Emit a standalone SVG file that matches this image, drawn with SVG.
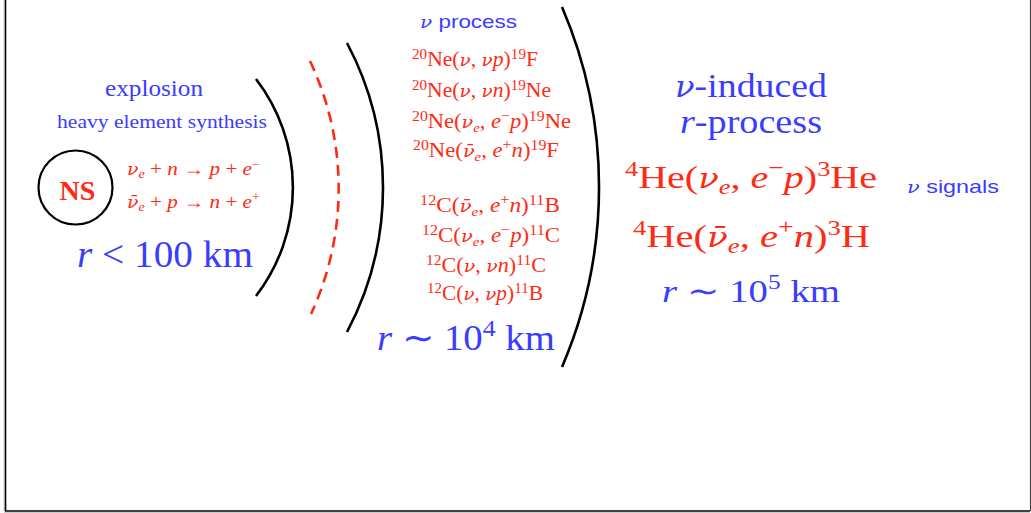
<svg xmlns="http://www.w3.org/2000/svg" width="1031" height="513" viewBox="0 0 1031 513">
<style>
.t{font-family:"Liberation Serif","Times New Roman",serif}
.sans{font-family:"Liberation Sans",Arial,sans-serif}
.b{fill:#3a3cff}
.r{fill:#ff2a14}
.i{font-style:italic}
.nu{font-family:"DejaVu Serif",serif;font-style:italic}
.shell{fill:none;stroke:#000;stroke-width:2.6}
</style>
<rect x="0" y="0" width="1031" height="513" fill="#fff"/>
<g id="frame">
<line x1="4" y1="0" x2="4" y2="512" stroke="#ccc" stroke-width="1"/>
<line x1="5.5" y1="0" x2="5.5" y2="511" stroke="#000" stroke-width="1.6"/>
<line x1="4" y1="512.5" x2="1030" y2="512.5" stroke="#ccc" stroke-width="1"/>
<line x1="5" y1="511" x2="1030" y2="511" stroke="#000" stroke-width="1.6"/>
<line x1="1030.5" y1="0" x2="1030.5" y2="511" stroke="#444" stroke-width="1.2"/>
</g>
<g id="shells">
<path class="shell" d="M256 79 A178 178 0 0 1 256 296"/>
<path d="M310 61 A298 298 0 0 1 311 314" fill="none" stroke="#ff2a14" stroke-width="2.6" stroke-dasharray="11 7"/>
<path class="shell" d="M347 43 A308 308 0 0 1 347 332"/>
<path class="shell" d="M562 7 A456 456 0 0 1 562 367"/>
</g>
<g id="ns">
<circle cx="75.5" cy="187.5" r="37" fill="none" stroke="#000" stroke-width="2.2"/>
<text class="t r" x="77.5" y="200" font-size="28" font-weight="bold" text-anchor="middle">NS</text>
</g>
<g id="inner">
<text class="t b" x="105" y="96" font-size="23" textLength="98" lengthAdjust="spacingAndGlyphs">explosion</text>
<text class="t b" x="57" y="128" font-size="18" textLength="210" lengthAdjust="spacingAndGlyphs">heavy element synthesis</text>
<text class="t r" x="127" y="175" font-size="18" textLength="133" lengthAdjust="spacingAndGlyphs"><tspan class="nu" font-size="16">ν</tspan><tspan class="i" font-size="12" dy="3">e</tspan><tspan dy="-3"> + </tspan><tspan class="i">n</tspan> → <tspan class="i">p</tspan> + <tspan class="i">e</tspan><tspan font-size="12" dy="-7">−</tspan></text>
<text class="t r" x="127" y="208" font-size="18" textLength="133" lengthAdjust="spacingAndGlyphs"><tspan class="nu" font-size="16">ν̄</tspan><tspan class="i" font-size="12" dy="3">e</tspan><tspan dy="-3"> + </tspan><tspan class="i">p</tspan> → <tspan class="i">n</tspan> + <tspan class="i">e</tspan><tspan font-size="12" dy="-7">+</tspan></text>
<text class="t b" x="77" y="267" font-size="38" textLength="176" lengthAdjust="spacingAndGlyphs"><tspan class="i">r</tspan> &lt; 100 km</text>
</g>
<g id="middle">
<text class="b" x="420" y="28" font-size="19" textLength="97" lengthAdjust="spacingAndGlyphs"><tspan class="nu" font-size="17">ν</tspan><tspan class="sans"> process</tspan></text>
<text class="t r" x="412" y="66" font-size="20" textLength="126" lengthAdjust="spacingAndGlyphs"><tspan font-size="14" dy="-7">20</tspan><tspan dy="7">Ne(</tspan><tspan class="nu" font-size="17">ν</tspan>, <tspan class="nu" font-size="17">ν</tspan><tspan class="i">p</tspan>)<tspan font-size="14" dy="-7">19</tspan><tspan dy="7">F</tspan></text>
<text class="t r" x="412" y="97" font-size="20" textLength="139" lengthAdjust="spacingAndGlyphs"><tspan font-size="14" dy="-7">20</tspan><tspan dy="7">Ne(</tspan><tspan class="nu" font-size="17">ν</tspan>, <tspan class="nu" font-size="17">ν</tspan><tspan class="i">n</tspan>)<tspan font-size="14" dy="-7">19</tspan><tspan dy="7">Ne</tspan></text>
<text class="t r" x="412" y="128" font-size="20" textLength="159" lengthAdjust="spacingAndGlyphs"><tspan font-size="14" dy="-7">20</tspan><tspan dy="7">Ne(</tspan><tspan class="nu" font-size="17">ν</tspan><tspan class="i" font-size="13" dy="4">e</tspan><tspan dy="-4">, </tspan><tspan class="i">e</tspan><tspan font-size="14" dy="-8">−</tspan><tspan class="i" dy="8">p</tspan>)<tspan font-size="14" dy="-7">19</tspan><tspan dy="7">Ne</tspan></text>
<text class="t r" x="413" y="157" font-size="20" textLength="146" lengthAdjust="spacingAndGlyphs"><tspan font-size="14" dy="-7">20</tspan><tspan dy="7">Ne(</tspan><tspan class="nu" font-size="17">ν̄</tspan><tspan class="i" font-size="13" dy="4">e</tspan><tspan dy="-4">, </tspan><tspan class="i">e</tspan><tspan font-size="14" dy="-8">+</tspan><tspan class="i" dy="8">n</tspan>)<tspan font-size="14" dy="-7">19</tspan><tspan dy="7">F</tspan></text>
<text class="t r" x="420" y="212" font-size="20" textLength="140" lengthAdjust="spacingAndGlyphs"><tspan font-size="14" dy="-7">12</tspan><tspan dy="7">C(</tspan><tspan class="nu" font-size="17">ν̄</tspan><tspan class="i" font-size="13" dy="4">e</tspan><tspan dy="-4">, </tspan><tspan class="i">e</tspan><tspan font-size="14" dy="-8">+</tspan><tspan class="i" dy="8">n</tspan>)<tspan font-size="14" dy="-7">11</tspan><tspan dy="7">B</tspan></text>
<text class="t r" x="422" y="242" font-size="20" textLength="138" lengthAdjust="spacingAndGlyphs"><tspan font-size="14" dy="-7">12</tspan><tspan dy="7">C(</tspan><tspan class="nu" font-size="17">ν</tspan><tspan class="i" font-size="13" dy="4">e</tspan><tspan dy="-4">, </tspan><tspan class="i">e</tspan><tspan font-size="14" dy="-8">−</tspan><tspan class="i" dy="8">p</tspan>)<tspan font-size="14" dy="-7">11</tspan><tspan dy="7">C</tspan></text>
<text class="t r" x="426" y="272" font-size="20" textLength="120" lengthAdjust="spacingAndGlyphs"><tspan font-size="14" dy="-7">12</tspan><tspan dy="7">C(</tspan><tspan class="nu" font-size="17">ν</tspan>, <tspan class="nu" font-size="17">ν</tspan><tspan class="i">n</tspan>)<tspan font-size="14" dy="-7">11</tspan><tspan dy="7">C</tspan></text>
<text class="t r" x="427" y="300" font-size="20" textLength="116" lengthAdjust="spacingAndGlyphs"><tspan font-size="14" dy="-7">12</tspan><tspan dy="7">C(</tspan><tspan class="nu" font-size="17">ν</tspan>, <tspan class="nu" font-size="17">ν</tspan><tspan class="i">p</tspan>)<tspan font-size="14" dy="-7">11</tspan><tspan dy="7">B</tspan></text>
<text class="t b" x="377" y="350" font-size="36" textLength="178" lengthAdjust="spacingAndGlyphs"><tspan class="i">r</tspan> ∼ 10<tspan font-size="24" dy="-14">4</tspan><tspan dy="14"> km</tspan></text>
</g>
<g id="outer">
<text class="t b" x="675" y="97" font-size="34" textLength="152" lengthAdjust="spacingAndGlyphs"><tspan class="nu" font-size="29">ν</tspan>-induced</text>
<text class="t b" x="680" y="133" font-size="34" textLength="142" lengthAdjust="spacingAndGlyphs"><tspan class="i">r</tspan>-process</text>
<text class="t r" x="625" y="188" font-size="32" textLength="252" lengthAdjust="spacingAndGlyphs"><tspan font-size="21" dy="-12">4</tspan><tspan dy="12">He(</tspan><tspan class="nu" font-size="27">ν</tspan><tspan class="i" font-size="21" dy="6">e</tspan><tspan dy="-6">, </tspan><tspan class="i">e</tspan><tspan font-size="22" dy="-13">−</tspan><tspan class="i" dy="13">p</tspan>)<tspan font-size="21" dy="-12">3</tspan><tspan dy="12">He</tspan></text>
<text class="t r" x="633" y="247" font-size="32" textLength="237" lengthAdjust="spacingAndGlyphs"><tspan font-size="21" dy="-12">4</tspan><tspan dy="12">He(</tspan><tspan class="nu" font-size="27">ν̄</tspan><tspan class="i" font-size="21" dy="6">e</tspan><tspan dy="-6">, </tspan><tspan class="i">e</tspan><tspan font-size="22" dy="-13">+</tspan><tspan class="i" dy="13">n</tspan>)<tspan font-size="21" dy="-12">3</tspan><tspan dy="12">H</tspan></text>
<text class="t b" x="662" y="302" font-size="32" textLength="178" lengthAdjust="spacingAndGlyphs"><tspan class="i">r</tspan> ∼ 10<tspan font-size="21" dy="-13">5</tspan><tspan dy="13"> km</tspan></text>
<text class="b" x="907" y="193" font-size="19" textLength="92" lengthAdjust="spacingAndGlyphs"><tspan class="nu" font-size="17">ν</tspan><tspan class="sans"> signals</tspan></text>
</g>
</svg>
